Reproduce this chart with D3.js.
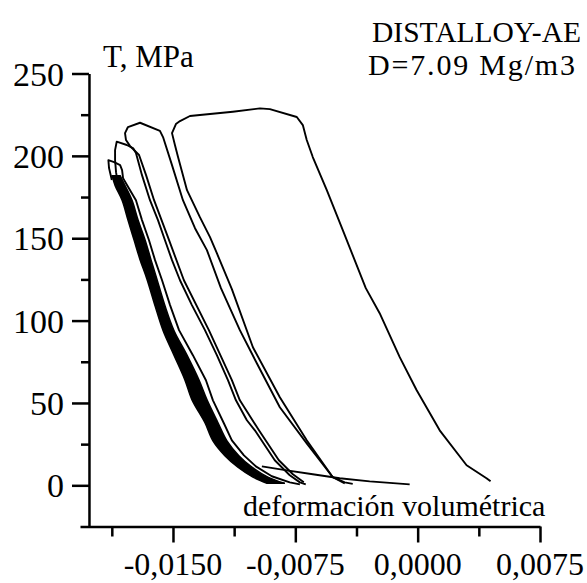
<!DOCTYPE html>
<html>
<head>
<meta charset="utf-8">
<script src="https://cdn.jsdelivr.net/npm/d3@7"></script>
<style>
body { margin: 0; background: #fff; }
svg text { font-family: "Liberation Serif", "Times New Roman", serif; fill: #000; }
</style>
</head>
<body>
<svg id="chart" width="587" height="583"></svg>
<script>
// ticks
const yMajor = [0, 50, 100, 150, 200, 250]
const yMinor = [25, 75, 125, 175, 225]
const xMajor = [-0.0150, -0.0075, 0, 0.0075]
const xMinor = [-0.01875, -0.01125, -0.00375, 0.00375]
const xTickLabels = ["-0,0150", "-0,0075", "0,0000", "0,0075"]

const titleLines = ["DISTALLOY-AE", "D=7.09 Mg/m3"]
const yTitle = "T, MPa"
const xTitle = "deformación volumétrica"

// loops: [volumetric strain, T in MPa]
const loopA = [[0.00447,2.4],[0.00422,4.3],[0.00300,12.2],[0.00135,33.4],[-0.00006,57.7],[-0.00110,77.8],[-0.00233,104.5],[-0.00318,119.7],[-0.00459,154.9],[-0.00557,179.2],[-0.00643,199.3],[-0.00680,209.6],[-0.00704,218.7],[-0.00741,223.6],[-0.00906,228.4],[-0.00967,228.8],[-0.01133,226.8],[-0.01335,224.8],[-0.01396,224.2],[-0.01457,221.1],[-0.01482,219.3],[-0.01506,213.8],[-0.01488,206.6],[-0.01469,199.3],[-0.01414,179.2],[-0.01335,162.8],[-0.01273,150.7],[-0.01231,140.9],[-0.01139,119.1],[-0.01010,83.8],[-0.00845,53.5],[-0.00680,27.3],[-0.00520,4.9],[-0.00447,1.8],[-0.00398,0.9]]

const loopB = [[-0.00698,1.8],[-0.00765,6.7],[-0.00851,15.2],[-0.00973,33.4],[-0.01090,51.6],[-0.01139,63.8],[-0.01280,94.2],[-0.01433,124.5],[-0.01524,148.8],[-0.01616,173.1],[-0.01665,188.3],[-0.01708,200.5],[-0.01763,205.9],[-0.01788,209.6],[-0.01794,213.8],[-0.01776,217.5],[-0.01702,220.1],[-0.01580,215.2],[-0.01561,211.4],[-0.01506,194.4],[-0.01439,173.1],[-0.01365,156.1],[-0.01292,142.8],[-0.01206,119.7],[-0.01090,94.2],[-0.00986,74.1],[-0.00845,47.4],[-0.00680,25.5],[-0.00520,4.9],[-0.00447,1.2]]

const loopC = [[-0.01837,182.3],[-0.01849,190.1],[-0.01855,197.4],[-0.01855,203.5],[-0.01845,208.6],[-0.01783,206.6],[-0.01743,204.5],[-0.01727,201.7],[-0.01690,188.3],[-0.01641,173.1],[-0.01592,161.0],[-0.01549,148.8],[-0.01506,136.7],[-0.01457,124.5],[-0.01384,109.4],[-0.01304,94.2],[-0.01231,79.0],[-0.01163,63.8],[-0.01114,51.6],[-0.01047,39.5],[-0.00998,33.4],[-0.00937,24.3],[-0.00876,15.2],[-0.00784,6.1],[-0.00722,1.8],[-0.00686,0.6]]

const loopD = [[-0.01875,185.3],[-0.01892,192.6],[-0.01896,197.4],[-0.01861,196.2],[-0.01824,194.4],[-0.01812,191.4],[-0.01806,186.5],[-0.01782,182.3],[-0.01727,173.1],[-0.01690,161.0],[-0.01647,148.8],[-0.01610,136.7],[-0.01567,124.5],[-0.01518,109.4],[-0.01463,94.2],[-0.01378,79.0],[-0.01298,63.8],[-0.01255,51.6],[-0.01188,37.7],[-0.01139,27.3],[-0.01065,18.2],[-0.00992,11.5],[-0.00894,5.5],[-0.00784,1.8],[-0.00722,0.6]]

const baseLine = [[-0.00955,11.5],[-0.00802,9.1],[-0.00643,6.7],[-0.00478,4.3],[-0.00294,2.4],[-0.00049,0.6]]

// dense band of repeated cycles: [T, left strain, right strain]
const band = [[188,-0.01873,-0.01824],[182,-0.01855,-0.01794],[173,-0.01812,-0.01751],[161,-0.01776,-0.01714],[149,-0.01739,-0.01671],[137,-0.01702,-0.01635],[125,-0.01659,-0.01598],[109,-0.01610,-0.01549],[94,-0.01561,-0.01494],[79,-0.01494,-0.01414],[64,-0.01427,-0.01341],[52,-0.01384,-0.01292],[38,-0.01304,-0.01224],[27,-0.01255,-0.01169],[18,-0.01182,-0.01096],[11,-0.01102,-0.01016],[5,-0.01010,-0.00918],[1.2,-0.00924,-0.00814]]

const svg = d3.select("#chart")

const x = d3.scaleLinear().domain([-0.0207, 0.0075]).range([80, 540])
const y = d3.scaleLinear().domain([-25, 250]).range([526.5, 73.5])

// axes
const yAxisG = svg.append("g").attr("transform", `translate(${x(-0.02015)},0)`)
yAxisG.call(d3.axisLeft(y).tickValues(yMajor).tickSize(17).tickSizeOuter(0).tickFormat(""))
yAxisG.append("g").call(d3.axisLeft(y).tickValues(yMinor).tickSize(8).tickSizeOuter(0).tickFormat(""))
yAxisG.selectAll(".domain").filter((d, i) => i > 0).remove()

const xAxisG = svg.append("g").attr("transform", `translate(0,${y(-25)})`)
xAxisG.call(d3.axisBottom(x).tickValues(xMajor).tickSize(16).tickSizeOuter(0).tickFormat(""))
xAxisG.append("g").call(d3.axisBottom(x).tickValues(xMinor).tickSize(10).tickSizeOuter(0).tickFormat(""))
xAxisG.selectAll(".domain").filter((d, i) => i > 0).remove()

svg.selectAll(".domain, .tick line").attr("stroke", "#000").attr("stroke-width", 2.5)

// tick labels
svg.append("g").selectAll("text").data(yMajor).enter().append("text")
    .attr("x", 64).attr("y", d => y(d) + 12)
    .attr("text-anchor", "end").attr("font-size", 34)
    .text(d => d)

svg.append("g").selectAll("text").data(xMajor).enter().append("text")
    .attr("x", d => x(d)).attr("y", 575)
    .attr("text-anchor", "middle").attr("font-size", 32)
    .text((d, i) => xTickLabels[i])

// titles
svg.append("text").attr("x", 372).attr("y", 42).attr("font-size", 29.5).text(titleLines[0])
svg.append("text").attr("x", 368).attr("y", 75).attr("font-size", 30)
    .attr("textLength", 207).attr("lengthAdjust", "spacing").text(titleLines[1])
svg.append("text").attr("x", 103).attr("y", 67).attr("font-size", 31).text(yTitle)
svg.append("text").attr("x", 243).attr("y", 516).attr("font-size", 30).text(xTitle)

// curves
const line = d3.line().x(d => x(d[0])).y(d => y(d[1]))

svg.append("path").datum(band)
    .attr("d", d3.area().y(d => y(d[0])).x0(d => x(d[1])).x1(d => x(d[2])).curve(d3.curveCatmullRom.alpha(0.5)))
    .attr("fill", "#000").attr("stroke", "#000").attr("stroke-width", 1.5)

const loops = [loopA, loopB, loopC, loopD, baseLine]
svg.append("g").selectAll("path").data(loops).enter().append("path")
    .attr("d", line)
    .attr("fill", "none")
    .attr("stroke", "#000")
    .attr("stroke-width", 1.9)
    .attr("stroke-linejoin", "round")
</script>
</body>
</html>
